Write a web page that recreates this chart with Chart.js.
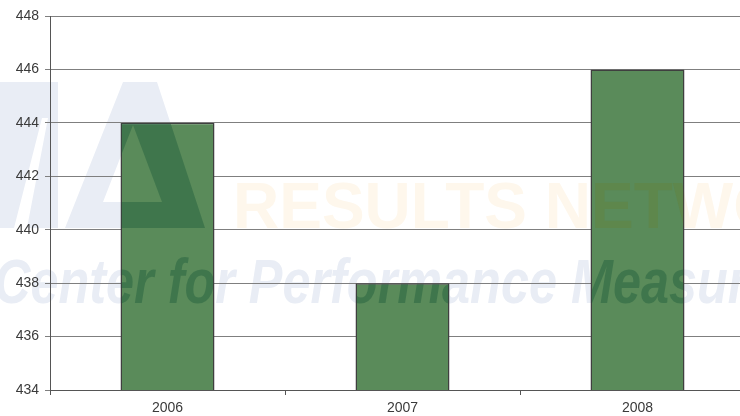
<!DOCTYPE html>
<html>
<head>
<meta charset="utf-8">
<script src="https://cdn.jsdelivr.net/npm/chart.js@4"></script>
<style>
  html, body { margin: 0; padding: 0; background: #fff; overflow: hidden; }
  #wrap { width: 740px; height: 416px; overflow: hidden; }
</style>
</head>
<body>
<div id="wrap"><canvas id="chart" width="760" height="416"></canvas></div>
<script>
// Données du graphique
const years = ["2006", "2007", "2008"];
const values = [444, 438, 446];
const yMin = 434;
const yMax = 448;
const yStep = 2;

// Dessin du filigrane (logo ICMA + textes)
function drawWatermark(ctx, blue, orange) {
    ctx.save();
    // lettre "M" partielle
    ctx.fillStyle = blue;
    ctx.beginPath();
    ctx.moveTo(0, 82); ctx.lineTo(58, 82); ctx.lineTo(58, 228); ctx.lineTo(0, 228); ctx.closePath();
    ctx.moveTo(14, 228); ctx.lineTo(42, 118); ctx.lineTo(48, 118); ctx.lineTo(27, 228); ctx.closePath();
    ctx.fill("evenodd");
    // lettre "A"
    ctx.beginPath();
    ctx.moveTo(65, 228); ctx.lineTo(123, 82); ctx.lineTo(157, 82); ctx.lineTo(205, 228); ctx.closePath();
    ctx.moveTo(133, 125); ctx.lineTo(162, 202); ctx.lineTo(103, 202); ctx.closePath();
    ctx.fill("evenodd");
    // RESULTS NETWORK
    ctx.fillStyle = orange;
    ctx.font = "bold 64px 'Liberation Sans', Arial, sans-serif";
    ctx.textBaseline = "alphabetic";
    ctx.fillText("RESULTS NETWORK", 233, 228);
    // Center for Performance Measurement
    ctx.fillStyle = blue;
    ctx.font = "italic bold 63px 'Liberation Sans', Arial, sans-serif";
    ctx.scale(0.8, 1);
    ctx.fillText("Center for Performance Measurement", -6 / 0.8, 303);
    ctx.restore();
}

const watermarkPlugin = {
    id: "watermark",
    beforeDraw(chart) {
        drawWatermark(chart.ctx, "rgb(233,237,245)", "rgb(254,247,236)");
    },
    afterDatasetsDraw(chart) {
        // filigrane plus sombre par-dessus les barres
        const ctx = chart.ctx;
        const meta = chart.getDatasetMeta(0);
        ctx.save();
        ctx.beginPath();
        meta.data.forEach(bar => {
            const half = bar.width / 2 - 1;
            ctx.rect(bar.x - half, bar.y + 1, half * 2, bar.base - bar.y - 2);
        });
        ctx.clip();
        drawWatermark(ctx, "rgba(20,85,55,0.38)", "rgba(110,120,20,0.2)");
        ctx.restore();
    }
};

const ctx = document.getElementById("chart").getContext("2d");
new Chart(ctx, {
    type: "bar",
    data: {
        labels: years,
        datasets: [{
            data: values,
            backgroundColor: "rgb(90,139,90)",
            borderColor: "#3f3f3f",
            borderWidth: 1.5,
            borderSkipped: false,
            barPercentage: 0.4,
            categoryPercentage: 1.0
        }]
    },
    options: {
        responsive: false,
        animation: false,
        devicePixelRatio: 1,
        layout: { padding: { top: 16, right: 5, left: 0, bottom: 0 } },
        plugins: {
            legend: { display: false },
            tooltip: { enabled: false }
        },
        scales: {
            x: {
                offset: true,
                grid: {
                    offset: true,
                    drawOnChartArea: false,
                    drawTicks: true,
                    tickLength: 5,
                    color: "#555"
                },
                border: { color: "#555", width: 1 },
                ticks: {
                    color: "#3a3a3a",
                    padding: 5,
                    font: { family: "'Liberation Sans', Arial, sans-serif", size: 14 }
                },
                afterFit(scale) { scale.height = 26; }
            },
            y: {
                min: yMin,
                max: yMax,
                ticks: {
                    stepSize: yStep,
                    color: "#3a3a3a",
                    padding: 6,
                    font: { family: "'Liberation Sans', Arial, sans-serif", size: 14 }
                },
                grid: {
                    color: "#7f7f7f",
                    tickLength: 5,
                    lineWidth: 1
                },
                border: { color: "#555", width: 1 },
                afterFit(scale) { scale.width = 50; }
            }
        }
    },
    plugins: [watermarkPlugin]
});
</script>
</body>
</html>
